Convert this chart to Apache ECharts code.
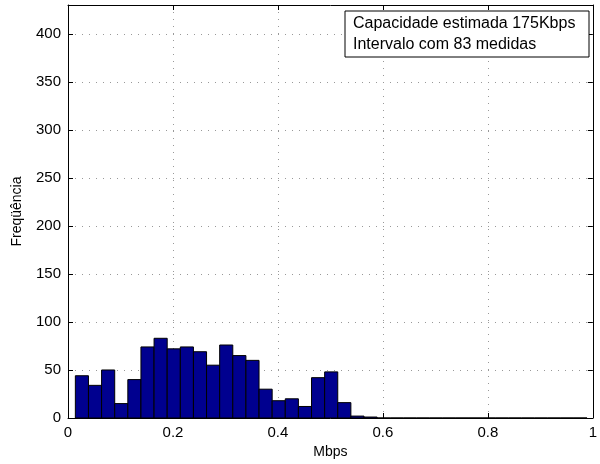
<!DOCTYPE html>
<html lang="pt">
<head>
    <meta charset="utf-8">
    <title>Histograma - capacidade estimada</title>
    <style>
        html, body { margin: 0; padding: 0; background: #fff; }
        #chart { width: 600px; height: 464px; }
    </style>
</head>
<body>
    <div id="chart"></div>
    <script src="https://cdn.jsdelivr.net/npm/echarts@6/dist/echarts.min.js"></script>
    <script type="text/javascript">
        // histograma: inicio do primeiro bin e largura (Mbps)
        var binStart = 0.014;
        var binWidth = 0.025;
        // contagens
        var counts = [44, 34, 50, 15, 40, 74, 83, 72, 74, 69,
                      55, 76, 65, 60, 30, 18, 20, 12, 42, 48,
                      16, 2, 1, 0, 0, 0, 0, 0, 0, 0,
                      0, 0, 0, 0, 0, 0, 0, 0, 0];
        var xTicks = [0, 0.2, 0.4, 0.6, 0.8, 1];
        var yTicks = [0, 50, 100, 150, 200, 250, 300, 350, 400];
        var legendLines = ["Capacidade estimada 175Kbps", "Intervalo com 83 medidas"];

        var font = "Liberation Sans";
        var bins = counts.map(function (c, i) {
            return [binStart + i * binWidth, binStart + (i + 1) * binWidth, c];
        });

        var tickInside = { show: true, inside: true, length: 5, lineStyle: { color: "#000" } };
        var dotted = { show: true, lineStyle: { color: "#999", type: [1, 6], width: 1 } };

        var chart = echarts.init(document.getElementById("chart"));
        chart.setOption({
            animation: false,
            backgroundColor: "#fff",
            grid: { left: 68, right: 7, top: 5, bottom: 46, containLabel: false },
            xAxis: [{
                type: "value", min: xTicks[0], max: xTicks[xTicks.length - 1], interval: 0.2,
                name: "Mbps", nameLocation: "middle", nameGap: 27,
                nameTextStyle: { fontFamily: font, fontSize: 14, color: "#000" },
                axisLine: { show: true, onZero: false, lineStyle: { color: "#000" } },
                axisTick: tickInside,
                axisLabel: { fontFamily: font, fontSize: 15, color: "#000", margin: 7 },
                splitLine: dotted
            }, {
                type: "value", position: "top", min: xTicks[0], max: xTicks[xTicks.length - 1], interval: 0.2,
                axisLine: { show: true, onZero: false, lineStyle: { color: "#000" } },
                axisTick: tickInside, axisLabel: { show: false }, splitLine: { show: false }
            }],
            yAxis: [{
                type: "value", min: 0, max: 430, interval: 50,
                name: "Freqüência", nameLocation: "middle", nameGap: 44,
                nameTextStyle: { fontFamily: font, fontSize: 14, color: "#000" },
                axisLine: { show: true, onZero: false, lineStyle: { color: "#000" } },
                axisTick: tickInside,
                axisLabel: {
                    fontFamily: font, fontSize: 15, color: "#000", margin: 7,
                    formatter: function (v) { return yTicks.indexOf(v) >= 0 ? String(v) : ""; }
                },
                splitLine: dotted
            }, {
                type: "value", position: "right", min: 0, max: 430, interval: 50,
                axisLine: { show: true, onZero: false, lineStyle: { color: "#000" } },
                axisTick: tickInside, axisLabel: { show: false }, splitLine: { show: false }
            }],
            series: [{
                type: "custom",
                xAxisIndex: 0, yAxisIndex: 0,
                data: bins,
                renderItem: function (params, api) {
                    var p0 = api.coord([api.value(0), 0]);
                    var p1 = api.coord([api.value(1), api.value(2)]);
                    return {
                        type: "rect",
                        shape: { x: p0[0], y: p1[1], width: p1[0] - p0[0], height: p0[1] - p1[1] },
                        style: { fill: "#00008F", stroke: "#000", lineWidth: 1 }
                    };
                }
            }],
            graphic: [{
                type: "rect", z: 100,
                shape: { x: 345, y: 11, width: 244, height: 46 },
                style: { fill: "#fff", stroke: "#000", lineWidth: 1 }
            }, {
                type: "text", z: 101, x: 353, y: 24,
                style: { text: legendLines[0], fontFamily: font, fontSize: 16, fill: "#000", verticalAlign: "middle" }
            }, {
                type: "text", z: 101, x: 353, y: 45,
                style: { text: legendLines[1], fontFamily: font, fontSize: 16, fill: "#000", verticalAlign: "middle" }
            }]
        });
    </script>
</body>
</html>
